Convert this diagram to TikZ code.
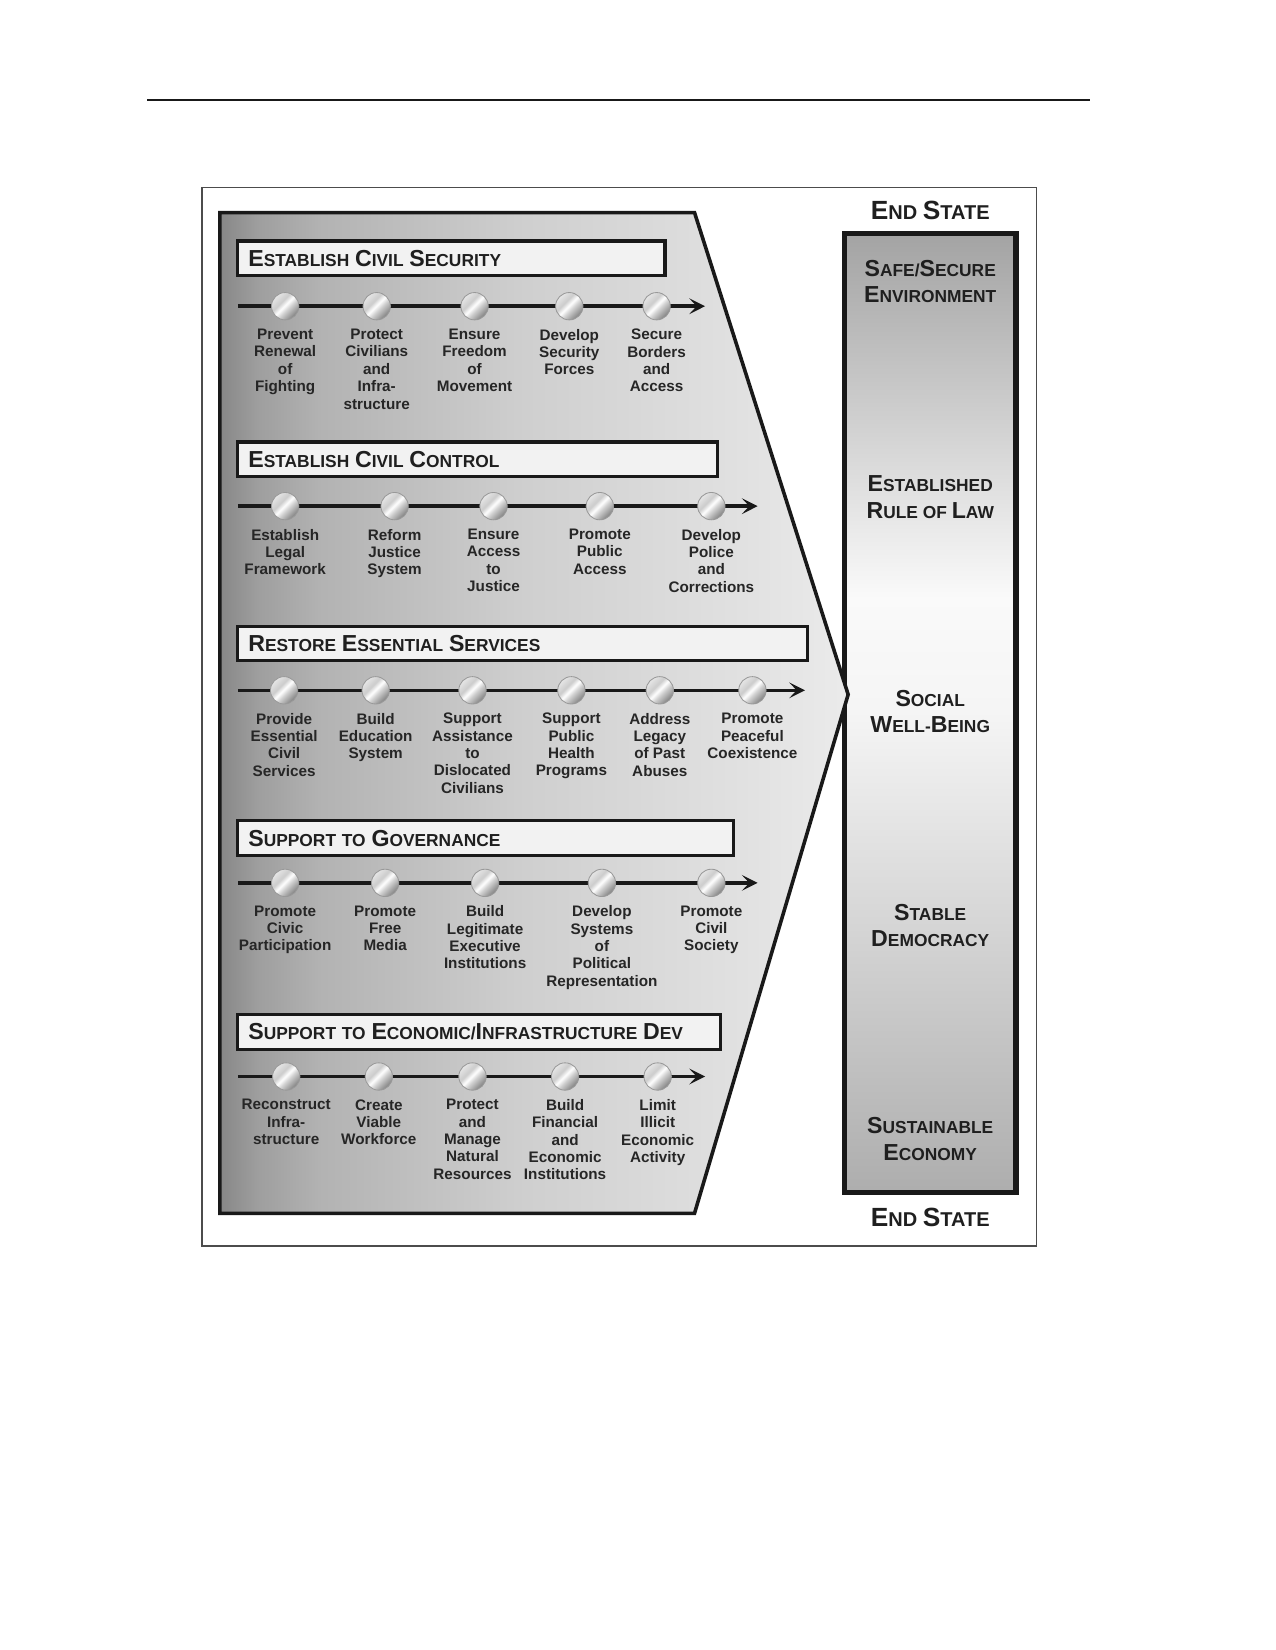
\documentclass[tikz,border=0pt]{standalone}
\usepackage{fontspec}
\setmainfont{Liberation Sans}
\usetikzlibrary{arrows.meta}
\pgfdeclarehorizontalshading{ballshade}{100bp}{color(0bp)=(black!10); color(25bp)=(black!10); color(40bp)=(black!20); color(49bp)=(white); color(57bp)=(black!18); color(75bp)=(black!50); color(100bp)=(black!50)}
\pgfdeclarehorizontalshading{chevshade}{100bp}{color(0bp)=(black!47); color(25bp)=(black!47); color(28bp)=(black!38); color(33bp)=(black!30); color(49bp)=(black!19); color(66bp)=(black!12); color(75bp)=(black!8); color(100bp)=(black!8)}
\pgfdeclareverticalshading{colshade}{100bp}{color(0bp)=(black!32); color(25bp)=(black!32); color(50bp)=(black!4); color(56bp)=(black!2); color(75bp)=(black!36); color(100bp)=(black!36)}
\newcommand\bigc[1]{{\fontsize{22}{22}\selectfont #1}}
\newcommand\bige[1]{{\fontsize{25}{25}\selectfont #1}}
\newcommand\mrow[4]{%
  \coordinate (s#1) at (226,#2);
  \coordinate (e#1) at (#3,#2);
  \draw[flow] (s#1) -- (e#1);
  \foreach \mx/\mtext [count=\i] in {#4} {
    \node[ball] (b#1\i) at (\mx,#2) {};
    \node[lbl] (l#1\i) at ([yshift=-21.5pt]b#1\i.center) {\mtext};
  }}
\begin{document}
\begin{tikzpicture}[x=1pt,y=-1pt,
  lbl/.style={anchor=north, align=center, inner sep=0pt, text=black!85,
    font={\fontsize{14.5}{16.5}\selectfont\bfseries}, execute at begin node=\strut},
  ball/.style={circle, minimum size=26pt, inner sep=0pt, draw=black!40, line width=0.8pt,
    shade, shading=ballshade, shading angle=-45},
  flow/.style={line width=3.4pt, black!90, -{Stealth[length=15pt,width=15pt,inset=7pt]}},
  hdr/.style={draw=black!90, line width=3pt, fill=black!5, anchor=north west, outer sep=0pt,
    minimum height=33pt, inner xsep=10pt, inner ysep=0pt, align=left, text=black!88,
    font={\fontsize{16.5}{20}\selectfont\bfseries}, text depth=0pt},
  colbox/.style={draw=black!90, line width=4.8pt, shade, shading=colshade,
    minimum width=163pt, minimum height=912pt, inner sep=0pt, outer sep=0pt},
  collbl/.style={align=center, inner sep=0pt, text=black!88,
    font={\fontsize{16.5}{25}\selectfont\bfseries}},
  endlbl/.style={align=center, inner sep=0pt, text=black!88,
    font={\fontsize{19}{24}\selectfont\bfseries}}
]
\useasboundingbox (0,0) rectangle (1212,1568);
\fill[white] (0,0) rectangle (1212,1568);
% top rule and frame
\draw[line width=1.6pt, black!90] (140,95) -- (1036,95);
\draw[line width=1.3pt, black!70] (192,178) rectangle (985,1184);
% end state column
\node[colbox] (col) at (884,677.5) {};
\node[endlbl] (endtop) at (884,200) {\bige{E}ND \bige{S}TATE};
\node[endlbl] (endbot) at (884,1157) {\bige{E}ND \bige{S}TATE};
\node[collbl] (es1) at (884,267.5) {\bigc{S}AFE/\bigc{S}ECURE\\\bigc{E}NVIRONMENT};
\node[collbl] (es2) at (884,472.5) {\bigc{E}STABLISHED\\\bigc{R}ULE OF \bigc{L}AW};
\node[collbl] (es3) at (884,676) {\bigc{S}OCIAL\\\bigc{W}ELL-\bigc{B}EING};
\node[collbl] (es4) at (884,879.5) {\bigc{S}TABLE\\\bigc{D}EMOCRACY};
\node[collbl] (es5) at (884,1082.5) {\bigc{S}USTAINABLE\\\bigc{E}CONOMY};
% chevron
\shadedraw[shading=chevshade, draw=black!90, line width=3.4pt, line join=miter]
  (209,202) -- (660,202) -- (806,660) -- (660,1153) -- (209,1153) -- cycle;
% headers
\node[hdr, text width=386pt] (h1) at (226,229) {\bigc{E}STABLISH \bigc{C}IVIL \bigc{S}ECURITY};
\node[hdr, text width=436pt] (h2) at (226,420) {\bigc{E}STABLISH \bigc{C}IVIL \bigc{C}ONTROL};
\node[hdr, text width=521pt] (h3) at (226,595) {\bigc{R}ESTORE \bigc{E}SSENTIAL \bigc{S}ERVICES};
\node[hdr, text width=451pt] (h4) at (226,780) {\bigc{S}UPPORT TO \bigc{G}OVERNANCE};
\node[hdr, text width=439pt] (h5) at (226,964) {\bigc{S}UPPORT TO \bigc{E}CONOMIC/\bigc{I}NFRASTRUCTURE \bigc{D}EV};
% rows
\mrow{1}{291}{670}{271/{Prevent\\Renewal\\of\\Fighting}, 358/{Protect\\Civilians\\and\\Infra-\\structure}, 451/{Ensure\\Freedom\\of\\Movement}, 541/{Develop\\Security\\Forces}, 624/{Secure\\Borders\\and\\Access}}
\mrow{2}{481}{720}{271/{Establish\\Legal\\Framework}, 375/{Reform\\Justice\\System}, 469/{Ensure\\Access\\to\\Justice}, 570/{Promote\\Public\\Access}, 676/{Develop\\Police\\and\\Corrections}}
\mrow{3}{656}{765}{270/{Provide\\Essential\\Civil\\Services}, 357/{Build\\Education\\System}, 449/{Support\\Assistance\\to\\Dislocated\\Civilians}, 543/{Support\\Public\\Health\\Programs}, 627/{Address\\Legacy\\of Past\\Abuses}, 715/{Promote\\Peaceful\\Coexistence}}
\mrow{4}{839}{720}{271/{Promote\\Civic\\Participation}, 366/{Promote\\Free\\Media}, 461/{Build\\Legitimate\\Executive\\Institutions}, 572/{Develop\\Systems\\of\\Political\\Representation}, 676/{Promote\\Civil\\Society}}
\mrow{5}{1023}{670}{272/{Reconstruct\\Infra-\\structure}, 360/{Create\\Viable\\Workforce}, 449/{Protect\\and\\Manage\\Natural\\Resources}, 537/{Build\\Financial\\and\\Economic\\Institutions}, 625/{Limit\\Illicit\\Economic\\Activity}}
\end{tikzpicture}
\end{document}
